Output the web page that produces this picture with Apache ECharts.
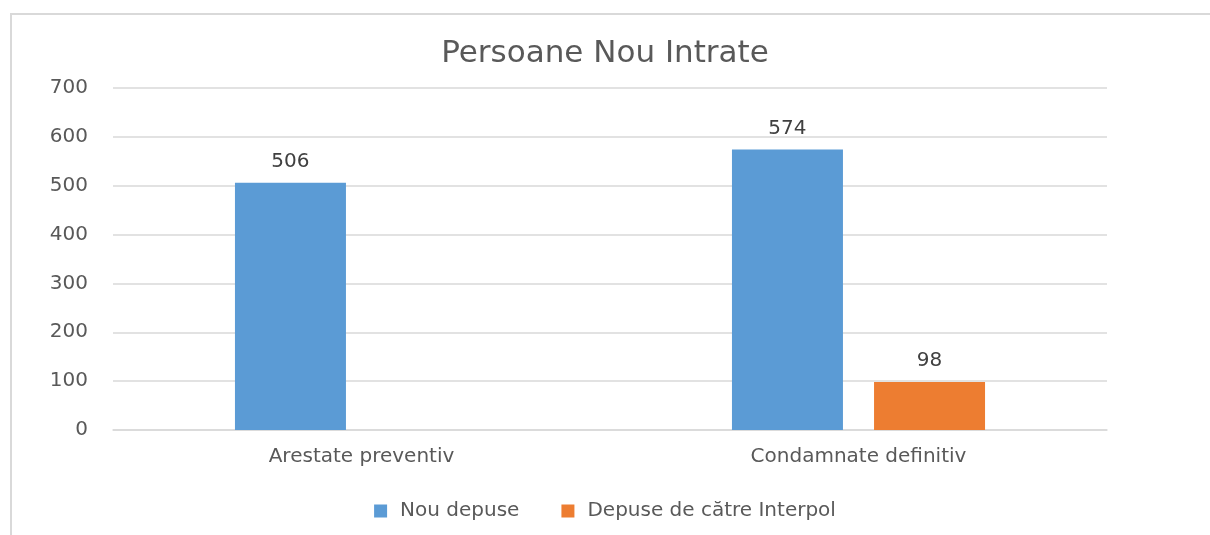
<!DOCTYPE html>
<html><head><meta charset="utf-8">
<script src="https://cdn.jsdelivr.net/npm/echarts@6/dist/echarts.min.js"></script>
<style>html,body{margin:0;padding:0;background:#fff}#c{width:1210px;height:535px}</style>
</head><body><div id="c"></div>
<script>
const categories = ["Arestate preventiv", "Condamnate definitiv"];
const seriesNames = ["Nou depuse", "Depuse de către Interpol"];
const nouDepuse = [506, 574];
const interpol = [null, 98];
const yTicks = {min: 0, max: 700, interval: 100};

const font = "'DejaVu Sans', 'Open Sans', sans-serif";
const chart = echarts.init(document.getElementById('c'), null, {renderer: 'canvas'});
chart.setOption({
  animation: false,
  backgroundColor: '#fff',
  graphic: [{type: 'polyline', shape: {points: [[11, 600], [11, 14], [1300, 14]]}, style: {fill: null, stroke: '#d9d9d9', lineWidth: 2}, z: -1}],
  title: {text: 'Persoane Nou Intrate', left: 'center', top: 33, textStyle: {fontFamily: font, fontSize: 31, fontWeight: 'normal', color: '#595959'}},
  legend: {bottom: 9, left: 'center', itemWidth: 13, itemHeight: 13, itemGap: 42, icon: 'rect',
    textStyle: {fontFamily: font, fontSize: 20, color: '#595959', padding: [0, 0, 0, 8]}, data: seriesNames},
  grid: {left: 113, right: 103, top: 88, bottom: 105, containLabel: false},
  xAxis: {type: 'category', data: categories, axisTick: {show: false},
    axisLine: {lineStyle: {color: '#d9d9d9', width: 1.5}},
    axisLabel: {fontFamily: font, fontSize: 20, color: '#595959', margin: 17}},
  yAxis: {type: 'value', min: yTicks.min, max: yTicks.max, interval: yTicks.interval,
    axisLine: {show: false}, axisTick: {show: false},
    splitLine: {lineStyle: {color: '#d9d9d9', width: 1.5}},
    axisLabel: {fontFamily: font, fontSize: 20, color: '#595959', margin: 25}},
  series: [
    {name: seriesNames[0], type: 'bar', data: nouDepuse, barWidth: 111, barGap: '28%', barCategoryGap: '49%',
     itemStyle: {color: '#5b9bd5'},
     label: {show: true, position: 'top', distance: 11, fontFamily: font, fontSize: 20, color: '#404040'}},
    {name: seriesNames[1], type: 'bar', data: interpol, barWidth: 111, barGap: '28%',
     itemStyle: {color: '#ed7d31'},
     label: {show: true, position: 'top', distance: 11, fontFamily: font, fontSize: 20, color: '#404040'}}
  ]
});
</script></body></html>
